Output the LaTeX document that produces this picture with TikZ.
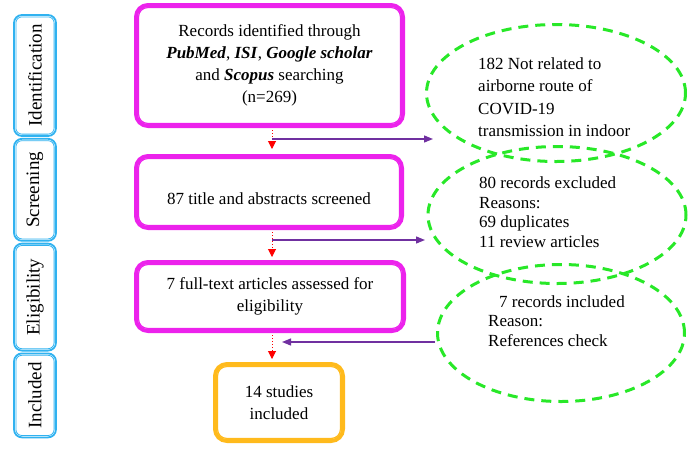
\documentclass[tikz,border=0pt]{standalone}
\usepackage{fontspec}
\setmainfont{Liberation Serif}
\usetikzlibrary{positioning,shapes.geometric,arrows.meta}
\definecolor{pinkline}{RGB}{236,34,236}
\definecolor{stageblue}{RGB}{48,178,240}
\definecolor{incorange}{RGB}{255,186,28}
\definecolor{exgreen}{RGB}{40,232,40}
\definecolor{flowpurple}{RGB}{112,48,160}

\begin{document}
\begin{tikzpicture}[x=1pt,y=-1pt,
	stagebox/.style={draw=stageblue, line width=1.8pt, rounded corners=8pt,
	minimum width=42pt, inner sep=0pt, font=\fontsize{19}{22}\selectfont},
	pinkbox/.style={draw=pinkline, line width=4pt, rounded corners=12pt,
	inner sep=0pt, align=center, font=\fontsize{17}{22}\selectfont},
	incbox/.style={pinkbox, draw=incorange},
	exell/.style={ellipse, draw=exgreen, line width=3pt, dash pattern=on 10pt off 7pt,
	inner sep=0pt},
	extext/.style={anchor=west, align=left, inner sep=0pt,
	font=\fontsize{17}{19.6}\selectfont},
	redarrow/.style={red, line width=1pt, dotted, -{Triangle[length=8pt,width=8pt]}},
	purarrow/.style={flowpurple, line width=1.3pt, -{Triangle[length=9pt,width=7pt]}}
	]
	\useasboundingbox (0,0) rectangle (688,451);
	
	% stages on the left
	\node[stagebox, minimum height=121pt] (ide) at (35,75.5) {\rotatebox{90}{Identification}};
	\node[stagebox, minimum height=102pt] (scn) [below=1pt of ide] {\rotatebox{90}{Screening}};
	\node[stagebox, minimum height=107pt] (elg) [below=1pt of scn] {\rotatebox{90}{Eligibility}};
	\node[stagebox, minimum height=84pt] (inc) [below=1pt of elg] {\rotatebox{90}{Included}};
	
	% main boxes
	\node[pinkbox, minimum width=267pt, minimum height=121pt] (rec) at (269.5,65.5)
	{Records identified through\\ \textbf{\textit{PubMed}}, \textbf{\textit{ISI}},
	\textbf{\textit{Google scholar}}\\ and \textbf{\textit{Scopus}} searching\\ (n=269)};
	\node[pinkbox, minimum width=266pt, minimum height=72pt, text height=28pt, text depth=4pt]
	(scr) at (269,192) {87 title and abstracts screened};
	\node[pinkbox, minimum width=268pt, minimum height=69pt] (eli) at (270,296.5)
	{7 full-text articles assessed for\\ eligibility};
	\node[incbox, minimum width=128pt, minimum height=77pt] (stu) at (279,402.5)
	{14 studies\\ included};
	
	% inner frames
	\foreach \n in {rec,scr,eli}
	\draw[pinkline, line width=1.2pt, rounded corners=9pt]
	([shift={(4.6pt,4.6pt)}]\n.south west) rectangle ([shift={(-4.6pt,-4.6pt)}]\n.north east);
	\draw[incorange, line width=1.2pt, rounded corners=9pt]
	([shift={(4.6pt,4.6pt)}]stu.south west) rectangle ([shift={(-4.6pt,-4.6pt)}]stu.north east);
	\foreach \n in {ide,scn,elg,inc}
	\draw[stageblue, line width=0.8pt, rounded corners=6pt]
	([shift={(2.8pt,2.8pt)}]\n.south west) rectangle ([shift={(-2.8pt,-2.8pt)}]\n.north east);
	
	% excluded / added records
	\node[exell, minimum width=259pt, minimum height=137pt] (ex1) at (556,93) {};
	\node[exell, minimum width=258pt, minimum height=137pt] (ex2) at (557,215) {};
	\node[exell, minimum width=247pt, minimum height=137pt] (ex3) at (561,333) {};
	\node[extext, font=\fontsize{17}{22.5}\selectfont] (tx1) at (478,97)
	{182 Not related to\\ airborne route of\\ COVID-19\\ transmission in indoor};
	\node[extext] (tx2) at (479,212)
	{80 records excluded\\ Reasons:\\ 69 duplicates\\ 11 review articles};
	\node[extext] (tx3) at (488,321)
	{\hspace{11pt}7 records included\\ Reason:\\ References check};
	
	% connectors
	\coordinate (rx) at (272,0);
	\draw[redarrow, shorten <=2pt, shorten >=5pt] (rec.south -| rx) -- (scr.north -| rx);
	\draw[redarrow, shorten <=2pt, shorten >=3pt] (scr.south -| rx) -- (eli.north -| rx);
	\draw[redarrow, shorten <=2pt, shorten >=3pt] (eli.south -| rx) -- (stu.north -| rx);
	
	\coordinate (b1) at (272,139);
	\coordinate (t1) at (433,139);
	\coordinate (b2) at (272,240);
	\coordinate (t2) at (425,240);
	\coordinate (s3) at (435,342);
	\coordinate (t3) at (282,342);
	\draw[purarrow] (b1) -- (t1);
	\draw[purarrow] (b2) -- (t2);
	\draw[purarrow] (s3) -- (t3);
\end{tikzpicture}
\end{document}
